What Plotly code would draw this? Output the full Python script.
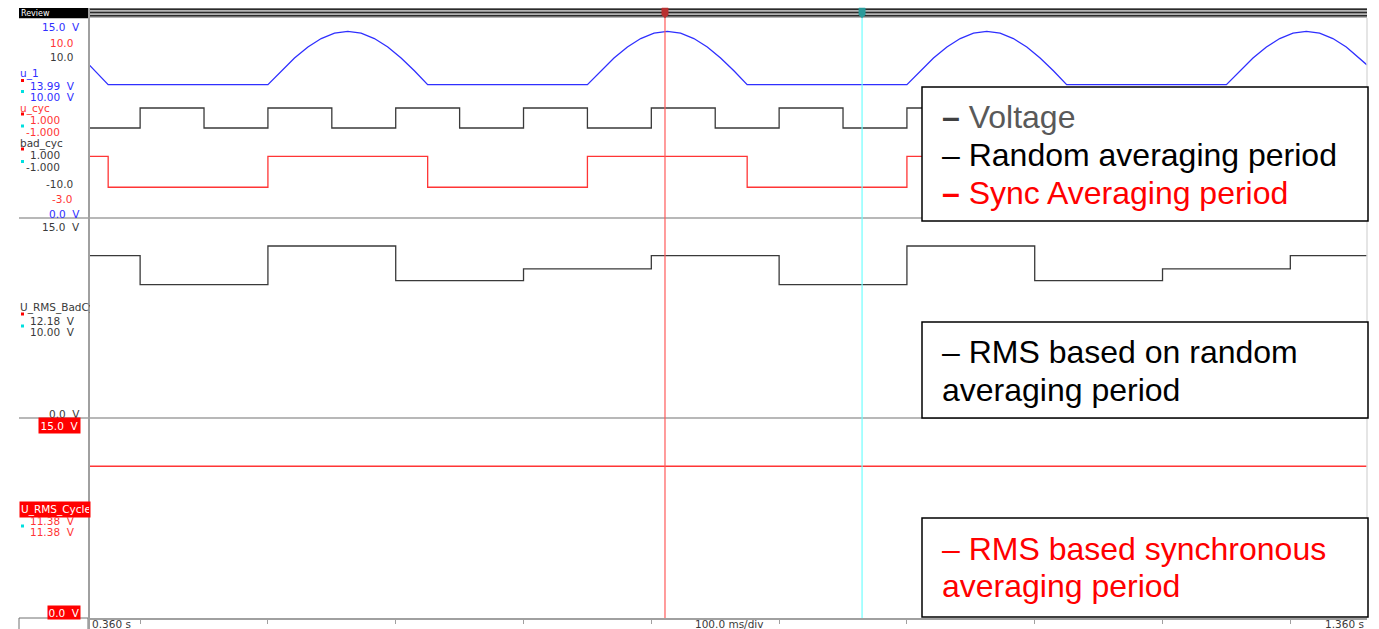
import plotly.graph_objects as go

# ---------------- data ----------------
# u_1 : clipped sine voltage (V), sampled along the trace
u1_time = [0.3600, 0.3646, 0.3750,
           0.5000, 0.5104, 0.5208, 0.5313, 0.5417, 0.5521, 0.5625, 0.5729, 0.5833, 0.5938, 0.6042, 0.6146, 0.6250,
           0.7500, 0.7604, 0.7708, 0.7813, 0.7917, 0.8021, 0.8125, 0.8229, 0.8333, 0.8438, 0.8542, 0.8646, 0.8750,
           1.0000, 1.0104, 1.0208, 1.0313, 1.0417, 1.0521, 1.0625, 1.0729, 1.0833, 1.0938, 1.1042, 1.1146, 1.1250,
           1.2500, 1.2604, 1.2708, 1.2813, 1.2917, 1.3021, 1.3125, 1.3229, 1.3333, 1.3438, 1.3542, 1.3600]
u1_volt = [11.50, 11.04, 10.00,
           10.00, 11.04, 12.00, 12.83, 13.46, 13.86, 13.99, 13.86, 13.46, 12.83, 12.00, 11.04, 10.00,
           10.00, 11.04, 12.00, 12.83, 13.46, 13.86, 13.99, 13.86, 13.46, 12.83, 12.00, 11.04, 10.00,
           10.00, 11.04, 12.00, 12.83, 13.46, 13.86, 13.99, 13.86, 13.46, 12.83, 12.00, 11.04, 10.00,
           10.00, 11.04, 12.00, 12.83, 13.46, 13.86, 13.99, 13.86, 13.46, 12.83, 12.00, 11.48]

# bad_cyc : free-running averaging gate (step changes)
bad_cyc_time = [0.36, 0.40, 0.45, 0.50, 0.55, 0.60, 0.65, 0.70, 0.75, 0.80, 0.85,
                0.90, 0.95, 1.00, 1.05, 1.10, 1.15, 1.20, 1.25, 1.30, 1.35, 1.36]
bad_cyc_val = [-1, 1, -1, 1, -1, 1, -1, 1, -1, 1, -1,
               1, -1, 1, -1, 1, -1, 1, -1, 1, -1, -1]

# u_cyc : gate synchronous with the voltage cycle
u_cyc_time = [0.36, 0.375, 0.500, 0.625, 0.750, 0.875, 1.000, 1.125, 1.250, 1.36]
u_cyc_val = [1, -1, 1, -1, 1, -1, 1, -1, 1, 1]

# RMS over the free-running period (V)
rms_bad_time = [0.36, 0.40, 0.50, 0.60, 0.70, 0.80, 0.90, 1.00, 1.10, 1.20, 1.30, 1.36]
rms_bad_val = [12.18, 10.00, 12.90, 10.30, 11.18, 12.18, 10.00, 12.90, 10.30, 11.18, 12.18, 12.18]

# RMS over the synchronous period (V)
rms_cyc_time = [0.36, 1.36]
rms_cyc_val = [11.38, 11.38]

# time axis
t_start, t_end = 0.360, 1.360
tick_times = [0.4, 0.5, 0.6, 0.7, 0.8, 0.9, 1.0, 1.1, 1.2, 1.3]
cursor_times = [0.8107, 0.9649]

# ---------------- styling ----------------
W, H = 1379, 629
L, R, T, B = 89, 12, 18, 11
PW, PH = W - L - R, H - T - B

BLUE = "#2f2fff"
RED = "#ff3535"
BLACK = "#3a3a3a"
GRAY = "#a0a0a0"
CUR1 = "#ff5a5a"
CUR2 = "#70ffff"


def px(x):
    return (x - L) / PW


def py(y):
    return (H - B - y) / PH


fig = go.Figure()
fig.add_trace(go.Scatter(x=u1_time, y=u1_volt, mode="lines", yaxis="y",
                         line=dict(color=BLUE, width=1.3), hoverinfo="skip"))
fig.add_trace(go.Scatter(x=bad_cyc_time, y=bad_cyc_val, mode="lines", yaxis="y2",
                         line=dict(color=BLACK, width=1.3, shape="hv"), hoverinfo="skip"))
fig.add_trace(go.Scatter(x=u_cyc_time, y=u_cyc_val, mode="lines", yaxis="y3",
                         line=dict(color=RED, width=1.3, shape="hv"), hoverinfo="skip"))
fig.add_trace(go.Scatter(x=rms_bad_time, y=rms_bad_val, mode="lines", yaxis="y4",
                         line=dict(color=BLACK, width=1.3, shape="hv"), hoverinfo="skip"))
fig.add_trace(go.Scatter(x=rms_cyc_time, y=rms_cyc_val, mode="lines", yaxis="y5",
                         line=dict(color=RED, width=1.3, shape="hv"), hoverinfo="skip"))

hidden = dict(showgrid=False, zeroline=False, showticklabels=False, showline=False, ticks="")
fig.update_layout(
    width=W, height=H,
    margin=dict(l=L, r=R, t=T, b=B, autoexpand=False),
    paper_bgcolor="white", plot_bgcolor="white",
    showlegend=False,
    xaxis=dict(range=[t_start, t_end], anchor="y5", automargin=False, showgrid=False, zeroline=False,
               tickvals=tick_times, ticks="outside", ticklen=4, tickcolor=GRAY, tickwidth=1,
               showticklabels=False, showline=True, linecolor=GRAY, linewidth=2),
    yaxis=dict(domain=[2 / 3, 1], range=[0, 15], anchor="x", **hidden),
    yaxis2=dict(overlaying="y", range=[-10, 10], anchor="x", **hidden),
    yaxis3=dict(overlaying="y", range=[-3, 10], anchor="x", **hidden),
    yaxis4=dict(domain=[1 / 3, 2 / 3], range=[0, 15], anchor="x", **hidden),
    yaxis5=dict(domain=[0, 1 / 3], range=[0, 15], anchor="x", **hidden),
)

shapes = []
# panel separators and frame
for ysep in (218, 418):
    shapes.append(dict(type="line", xref="paper", yref="paper", x0=px(19), x1=px(1367),
                       y0=py(ysep), y1=py(ysep), line=dict(color=GRAY, width=1.3)))
shapes.append(dict(type="line", xref="paper", yref="paper", x0=px(1367), x1=px(1367),
                   y0=py(18), y1=py(618), line=dict(color="#dcdcdc", width=1.5)))
shapes.append(dict(type="rect", xref="paper", yref="paper", x0=px(19), x1=px(88),
                   y0=py(618), y1=py(630), fillcolor="white", line=dict(color="#707070", width=1)))

# top review bar
shapes.append(dict(type="rect", xref="paper", yref="paper", x0=px(89), x1=px(1367),
                   y0=py(8), y1=py(18), fillcolor="#b4b4b4", line=dict(width=0)))
for yb in (9.3, 12.6, 15.8):
    shapes.append(dict(type="line", xref="paper", yref="paper", x0=px(89), x1=px(1367),
                       y0=py(yb), y1=py(yb), line=dict(color="#2a2a2a", width=1.5)))
shapes.append(dict(type="rect", xref="paper", yref="paper", x0=px(19), x1=px(88),
                   y0=py(8), y1=py(18.3), fillcolor="black", line=dict(width=0)))

# cursors
for tc, col, mk in zip(cursor_times, (CUR1, CUR2), ("#b83232", "#2a9a9a")):
    shapes.append(dict(type="line", xref="x", yref="paper", x0=tc, x1=tc,
                       y0=py(14), y1=py(618), line=dict(color=col, width=1.2)))
    d = 3.2 / PW * (t_end - t_start)
    shapes.append(dict(type="path", xref="x", yref="paper",
                       path=f"M {tc - d} {py(8)} L {tc + d} {py(8)} L {tc + d} {py(15)} "
                            f"L {tc} {py(18)} L {tc - d} {py(15)} Z",
                       fillcolor=mk, line=dict(color=mk, width=0.5)))

# annotation boxes
for (x0, y0, x1, y1) in ((922, 87, 1368, 221), (922, 322, 1368, 418), (922, 518, 1368, 617)):
    shapes.append(dict(type="rect", xref="paper", yref="paper", layer="above",
                       x0=px(x0), x1=px(x1), y0=py(y0), y1=py(y1),
                       fillcolor="white", line=dict(color="black", width=1.5)))

# small cursor-value markers beside the channel labels
for yr, yc in ((80.5, 91.5), (114, 126), (149, 161.5), (314, 326), (514, 526)):
    shapes.append(dict(type="rect", xref="paper", yref="paper", x0=px(21), x1=px(24),
                       y0=py(yr - 1.5), y1=py(yr + 1.5),
                       fillcolor="#b00000" if yr == 514 else "#ff0000", line=dict(width=0)))
    shapes.append(dict(type="rect", xref="paper", yref="paper", x0=px(21), x1=px(24),
                       y0=py(yc - 1.5), y1=py(yc + 1.5), fillcolor="#00e0e0", line=dict(width=0)))

SMALL = "DejaVu Sans"
NB = "\u00a0"
ann = []


def lab(text, x, y, color, anchor="left", size=10.5, bg=None, width=None, pad=0):
    d = dict(text=text, xref="paper", yref="paper", x=px(x), y=py(y), xanchor=anchor,
             yanchor="middle", showarrow=False, borderpad=pad,
             font=dict(family=SMALL, size=size, color=color))
    if bg:
        d["bgcolor"] = bg
    if width:
        d["width"] = width
        d["align"] = "left"
    ann.append(d)


lab("Review", 20, 13.5, "white", size=8)
lab(f"15.0{NB}{NB}V", 81, 27, BLUE, "right")
lab("10.0", 74, 42.5, RED, "right")
lab("10.0", 74, 57.5, BLACK, "right")
lab("u_1", 19, 73.5, BLUE)
lab(f"13.99{NB}{NB}V", 29, 86, BLUE)
lab(f"10.00{NB}{NB}V", 29, 97, BLUE)
lab("u_cyc", 19, 108.5, RED)
lab("1.000", 29, 120, RED)
lab("-1.000", 25, 132, RED)
lab("bad_cyc", 19, 143.5, BLACK)
lab("1.000", 29, 155, BLACK)
lab("-1.000", 25, 167, BLACK)
lab("-10.0", 74, 183.5, BLACK, "right")
lab("-3.0", 74, 199, RED, "right")
lab(f"0.0{NB}{NB}V", 81, 214, BLUE, "right")
lab(f"15.0{NB}{NB}V", 81, 227, BLACK, "right")
lab("U_RMS_BadCyc", 19, 308, BLACK, width=70)
lab(f"12.18{NB}{NB}V", 29, 320.5, BLACK)
lab(f"10.00{NB}{NB}V", 29, 332, BLACK)
lab(f"0.0{NB}{NB}V", 81, 413.5, BLACK, "right")
lab(f"15.0{NB}{NB}V", 81, 426, "white", "right", bg="#ff0000", pad=1.5)
lab("U_RMS_Cycle", 19, 509.5, "white", bg="#ff0000", width=68, pad=1)
lab(f"11.38{NB}{NB}V", 29, 520.5, RED)
lab(f"11.38{NB}{NB}V", 29, 532, RED)
lab(f"0.0{NB}{NB}V", 81, 612, "white", "right", bg="#ff0000", pad=0.5)
lab("0.360 s", 91, 623.8, BLACK, size=10.5)
lab("100.0 ms/div", 729, 623.8, BLACK, "center", size=10.5)
lab("1.360 s", 1365, 623.8, BLACK, "right", size=10.5)

# vertical frame line at the left edge of the traces, drawn over the channel labels
shapes.append(dict(type="line", xref="paper", yref="paper", layer="above", x0=px(89), x1=px(89),
                   y0=py(8), y1=py(629), line=dict(color=GRAY, width=2)))
fig.update_layout(shapes=shapes)

BIG = "Liberation Sans, Arial, sans-serif"


def big(text, x, y, color, size=32):
    ann.append(dict(text=text, xref="paper", yref="paper", x=px(x), y=py(y),
                    xanchor="left", yanchor="middle", showarrow=False, borderpad=0,
                    font=dict(family=BIG, size=size, color=color)))


big("<b>–</b> <span style='color:#595959'>Voltage</span>", 941, 117, "#404040")
big("– Random averaging period", 941, 155, "black")
big("<b>–</b> Sync Averaging period", 941, 193, "#ff0000")
big("– RMS based on random", 941, 352, "black")
big("averaging period", 941, 390, "black")
big("– RMS based synchronous", 941, 549, "#ff0000")
big("averaging period", 941, 586, "#ff0000")

fig.update_layout(annotations=ann)
fig.write_html("out.html")
